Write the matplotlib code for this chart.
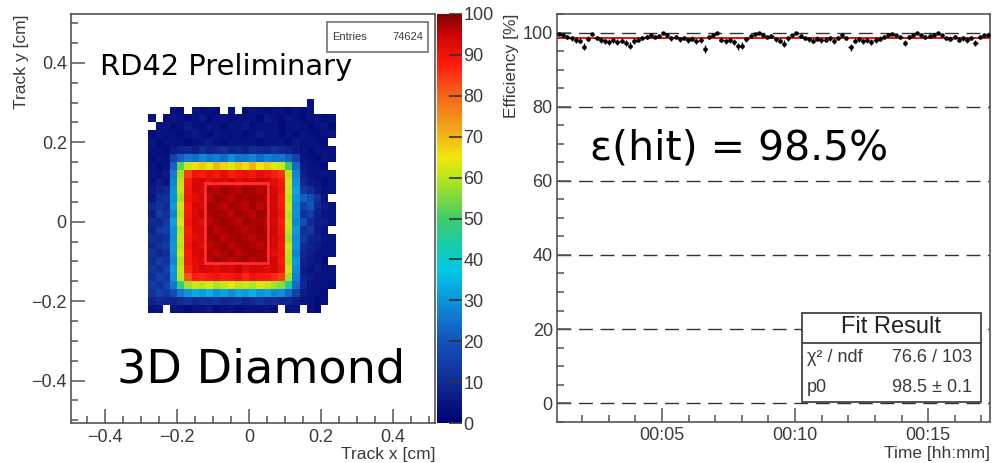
import numpy as np
import matplotlib
matplotlib.use("Agg")
import matplotlib.pyplot as plt
from matplotlib.colors import LinearSegmentedColormap
from matplotlib.patches import Rectangle
from matplotlib.transforms import Bbox
from matplotlib.ticker import MultipleLocator, FixedLocator, FuncFormatter

plt.rcParams['font.family'] = ['Liberation Sans', 'DejaVu Sans']

# ---------------- hit map: efficiency per 0.02 cm cell (0 = no tracks) ----------------
map_x_min = -0.28
map_y_max = 0.31
map_bin = 0.02
hit_rows = [
    [0, 0, 0, 0, 0, 0, 0, 0, 0, 0, 0, 0, 0, 0, 0, 0, 0, 0, 0, 0, 0, 0, 4, 0, 0, 0],
    [0, 0, 0, 4, 3, 0, 5, 3, 4, 3, 0, 4, 0, 3, 5, 4, 3, 4, 5, 3, 4, 3, 5, 0, 0, 0],
    [4, 0, 3, 5, 4, 3, 4, 6, 3, 4, 5, 3, 4, 4, 5, 3, 6, 4, 3, 5, 4, 3, 4, 5, 3, 4],
    [0, 4, 5, 3, 4, 6, 4, 3, 5, 4, 3, 5, 4, 6, 3, 4, 5, 4, 3, 4, 5, 4, 3, 4, 5, 3],
    [3, 5, 4, 4, 3, 5, 6, 4, 3, 5, 4, 4, 5, 3, 4, 6, 4, 5, 3, 4, 3, 5, 4, 3, 4, 5],
    [5, 3, 4, 5, 4, 3, 4, 5, 6, 4, 3, 5, 4, 4, 5, 3, 4, 4, 5, 3, 6, 4, 5, 4, 3, 0],
    [4, 4, 3, 6, 8, 9, 7, 10, 8, 9, 11, 8, 9, 7, 10, 9, 8, 11, 9, 8, 6, 4, 3, 5, 4, 4],
    [3, 5, 4, 15, 22, 26, 24, 28, 25, 27, 24, 29, 26, 25, 28, 24, 27, 25, 26, 22, 16, 5, 4, 3, 5, 4],
    [4, 3, 5, 22, 52, 62, 66, 68, 64, 70, 67, 63, 69, 66, 71, 65, 68, 64, 62, 50, 24, 6, 4, 4, 3, 0],
    [5, 4, 6, 26, 58, 84, 90, 88, 91, 89, 92, 88, 90, 91, 89, 92, 90, 88, 85, 60, 28, 7, 5, 4, 5, 4],
    [4, 6, 5, 28, 60, 88, 93, 94, 92, 94, 93, 95, 92, 94, 93, 95, 94, 92, 89, 62, 30, 9, 6, 5, 3, 5],
    [6, 8, 9, 30, 61, 89, 94, 93, 97, 96, 98, 97, 96, 98, 97, 96, 98, 93, 90, 61, 32, 14, 10, 6, 4, 4],
    [5, 10, 12, 29, 58, 90, 92, 94, 96, 98, 97, 96, 98, 97, 98, 97, 96, 94, 88, 60, 31, 22, 18, 12, 5, 0],
    [9, 12, 10, 31, 62, 88, 94, 93, 98, 97, 96, 98, 97, 96, 98, 96, 97, 93, 89, 62, 29, 16, 20, 9, 6, 4],
    [7, 14, 11, 28, 60, 89, 93, 95, 97, 98, 97, 96, 98, 97, 96, 98, 97, 94, 90, 59, 30, 12, 15, 8, 5, 5],
    [10, 9, 13, 32, 63, 90, 94, 92, 96, 97, 98, 97, 96, 98, 97, 97, 96, 93, 88, 61, 28, 18, 10, 7, 6, 4],
    [8, 13, 15, 30, 59, 88, 93, 94, 98, 96, 97, 98, 97, 96, 97, 98, 97, 94, 89, 60, 31, 11, 13, 6, 4, 0],
    [11, 10, 12, 29, 61, 89, 92, 93, 97, 98, 96, 97, 98, 97, 96, 97, 98, 93, 90, 58, 29, 14, 9, 8, 5, 4],
    [9, 12, 14, 31, 60, 90, 94, 92, 96, 97, 98, 96, 97, 98, 97, 96, 97, 94, 89, 61, 30, 10, 8, 6, 4, 5],
    [12, 9, 11, 30, 62, 88, 93, 94, 97, 96, 97, 98, 96, 97, 98, 97, 96, 92, 90, 60, 28, 9, 7, 5, 4, 4],
    [10, 14, 12, 28, 59, 89, 92, 93, 96, 98, 97, 96, 97, 98, 96, 97, 98, 94, 88, 59, 31, 8, 6, 5, 3, 0],
    [13, 11, 15, 31, 61, 87, 92, 94, 93, 92, 94, 93, 95, 92, 94, 93, 92, 94, 90, 62, 29, 7, 5, 6, 4, 5],
    [11, 15, 13, 30, 60, 82, 88, 87, 89, 90, 88, 89, 91, 87, 90, 89, 88, 86, 84, 58, 27, 8, 6, 4, 5, 4],
    [14, 12, 16, 26, 48, 58, 62, 60, 63, 59, 61, 64, 60, 62, 59, 63, 61, 58, 56, 45, 24, 9, 5, 5, 4, 3],
    [12, 16, 13, 18, 26, 30, 33, 31, 34, 30, 32, 29, 33, 31, 34, 30, 32, 28, 29, 24, 16, 7, 5, 4, 3, 0],
    [8, 10, 9, 8, 10, 12, 9, 11, 10, 12, 9, 10, 11, 8, 10, 12, 9, 10, 8, 9, 7, 5, 4, 3, 4, 0],
    [4, 5, 0, 5, 4, 3, 5, 4, 6, 3, 4, 5, 3, 4, 5, 4, 5, 3, 0, 4, 5, 0, 4, 3, 0, 0],
]
entries = 74624
fiducial_x = (-0.122, 0.053)
fiducial_y = (-0.104, 0.098)

# ---------------- efficiency vs time ----------------
t_start = 1.05      # minutes
t_bin = 0.1565      # minutes per bin
eff_values = [
    99.6, 99.2, 98.9, 98.4, 98.0, 97.8, 96.2, 98.3, 99.7, 98.6,
    98.0, 97.6, 97.4, 97.9, 97.5, 97.8, 97.3, 96.4, 97.7, 98.1,
    98.6, 98.9, 99.3, 98.7, 99.1, 99.8, 99.2, 98.4, 98.8, 98.2,
    98.5, 97.9, 98.3, 97.6, 98.0, 95.6, 98.7, 99.2, 99.8, 98.1,
    97.6, 97.9, 97.4, 96.3, 96.5, 98.2, 99.0, 99.5, 99.9, 99.4,
    98.8, 99.1, 98.2, 97.8, 97.0, 98.4, 99.3, 99.8, 99.1, 98.6,
    98.2, 97.8, 98.3, 97.9, 98.1, 98.4, 97.7, 98.5, 99.2, 98.6,
    96.0, 97.8, 98.2, 97.6, 97.9, 97.4, 98.0, 98.3, 98.8, 99.4,
    99.7, 99.2, 98.9, 97.2, 98.7, 99.3, 99.8, 99.4, 98.9, 99.1,
    99.3, 99.9, 99.2, 98.6, 98.3, 98.7, 98.1, 98.4, 98.0, 98.5,
    97.2, 98.8, 99.2, 99.4,
]
tracks_per_bin = 400
fit_chi2, fit_ndf = 76.6, 103
fit_p0, fit_p0_err = 98.5, 0.1

# ---------------- styling ----------------
spine_col = '#555555'
txt_col = '#3a3a3a'
rainbow = LinearSegmentedColormap.from_list('root_rainbow', [
    (0.00, (0.00, 0.00, 0.45)),
    (0.10, (0.07, 0.17, 0.58)),
    (0.20, (0.08, 0.32, 0.74)),
    (0.30, (0.05, 0.58, 0.86)),
    (0.37, (0.00, 0.78, 0.90)),
    (0.44, (0.10, 0.80, 0.65)),
    (0.50, (0.25, 0.80, 0.40)),
    (0.60, (0.72, 0.90, 0.10)),
    (0.65, (0.95, 0.90, 0.05)),
    (0.72, (0.95, 0.65, 0.10)),
    (0.80, (0.96, 0.40, 0.10)),
    (0.88, (1.00, 0.10, 0.05)),
    (0.95, (0.80, 0.02, 0.02)),
    (1.00, (0.50, 0.00, 0.00)),
])

W, H = 997, 463
fig = plt.figure(figsize=(W / 100, H / 100), dpi=100)


def fbox(x0, y0, x1, y1):
    """pixel box (top-left origin) -> figure fraction rect"""
    return [x0 / W, 1 - y1 / H, (x1 - x0) / W, (y1 - y0) / H]


def style_spines(ax):
    for s in ax.spines.values():
        s.set_color(spine_col)
        s.set_linewidth(1.2)


# ---------------- left: hit map ----------------
ax1 = fig.add_axes(fbox(71, 14, 435, 423))
vals = np.array(hit_rows, dtype=float)
vals = np.ma.masked_where(vals <= 0, vals)
nrow, ncol = vals.shape
x_edges = map_x_min + map_bin * np.arange(ncol + 1)
y_edges = map_y_max - map_bin * np.arange(nrow + 1)
mesh = ax1.pcolormesh(x_edges, y_edges, vals, cmap=rainbow, vmin=0, vmax=100,
                      shading='flat', edgecolors='none', antialiased=False)
ax1.add_patch(Rectangle((fiducial_x[0], fiducial_y[0]),
                        fiducial_x[1] - fiducial_x[0], fiducial_y[1] - fiducial_y[0],
                        fill=False, edgecolor='#ff3030', linewidth=2.0, zorder=3))
ax1.set_xlim(-0.495, 0.516)
ax1.set_ylim(-0.507, 0.523)
ax1.xaxis.set_major_locator(FixedLocator([-0.4, -0.2, 0, 0.2, 0.4]))
ax1.yaxis.set_major_locator(FixedLocator([-0.4, -0.2, 0, 0.2, 0.4]))
ax1.xaxis.set_minor_locator(MultipleLocator(0.05))
ax1.yaxis.set_minor_locator(MultipleLocator(0.05))
fmt = FuncFormatter(lambda v, p: '0' if abs(v) < 1e-9 else ('\u2212%.1f' % abs(v) if v < 0 else '%.1f' % v))
ax1.xaxis.set_major_formatter(fmt)
ax1.yaxis.set_major_formatter(fmt)
ax1.tick_params(which='both', direction='in', top=False, right=False, color=spine_col,
                labelcolor=txt_col, labelsize=13, width=1.1)
ax1.tick_params(which='major', length=10)
ax1.tick_params(which='minor', length=5)
ax1.tick_params(axis='y', pad=3)
ax1.tick_params(axis='x', pad=4)
style_spines(ax1)
ax1.text(1.0, -0.077, 'Track x [cm]', transform=ax1.transAxes, ha='right', va='center',
         fontsize=12.5, color=txt_col)
ax1.text(-0.135, 1.0, 'Track y [cm]', transform=ax1.transAxes, ha='center', va='top',
         rotation=90, fontsize=12.5, color=txt_col)

# statistics box
ax1.add_patch(Rectangle((0.703, 0.907), 0.278, 0.073, transform=ax1.transAxes,
                        facecolor='white', edgecolor='#666666', linewidth=1.1, zorder=4))
ax1.text(0.717, 0.944, 'Entries', transform=ax1.transAxes, ha='left', va='center',
         fontsize=8, color=txt_col, zorder=5)
ax1.text(0.968, 0.944, f'{entries}', transform=ax1.transAxes, ha='right', va='center',
         fontsize=8, color=txt_col, zorder=5)

ax1.text(0.0797, 0.851, 'RD42 Preliminary', transform=ax1.transAxes, ha='left',
         va='baseline', fontsize=20.8, family='DejaVu Sans', color='black')
ax1.text(0.126, 0.098, '3D Diamond', transform=ax1.transAxes, ha='left',
         va='baseline', fontsize=33.3, family='DejaVu Sans', color='black')

# colour scale
cax = fig.add_axes(fbox(437, 14, 462, 423))
cb = fig.colorbar(mesh, cax=cax)
cb.outline.set_visible(False)
cb.set_ticks(np.arange(0, 101, 10))
cax.tick_params(direction='in', length=9.5, width=1.2, color='#333333', labelsize=13,
                labelcolor=txt_col, pad=1)
clip = Bbox.from_extents(0, 0, 495, H)
for lab in cax.get_yticklabels():
    lab.set_clip_box(clip)
    lab.set_clip_on(True)

# ---------------- right: efficiency vs time ----------------
ax2 = fig.add_axes(fbox(557, 14, 990, 421.7))
eff = np.array(eff_values)
t_centers = t_start + t_bin * (np.arange(len(eff)) + 0.5)
p = eff / 100.0
err = 100.0 * np.sqrt(p * (1 - p) / tracks_per_bin)
err_hi = np.minimum(err, 100.0 - eff)
ax2.set_xlim(t_start, t_start + t_bin * len(eff))
ax2.set_ylim(-5, 105)
for g in range(0, 101, 20):
    ax2.axhline(g, color='#333333', linewidth=1.0, dashes=(10, 5.5), zorder=1)
ax2.axhline(fit_p0, color='#ee1111', linewidth=1.4, zorder=2)
ax2.errorbar(t_centers, eff, yerr=[err, err_hi], xerr=t_bin / 2, fmt='o', color='black',
             markersize=2.2, elinewidth=0.9, capsize=0, zorder=3)
ax2.xaxis.set_major_locator(FixedLocator([5, 10, 15]))
ax2.xaxis.set_minor_locator(MultipleLocator(1))
ax2.xaxis.set_major_formatter(FuncFormatter(lambda v, pos: '%02d:%02d' % divmod(int(round(v)), 60)))
ax2.yaxis.set_major_locator(FixedLocator([0, 20, 40, 60, 80, 100]))
ax2.yaxis.set_minor_locator(MultipleLocator(5))
ax2.tick_params(which='both', direction='in', top=False, right=False, color=spine_col,
                labelcolor=txt_col, labelsize=13, width=1.1)
ax2.tick_params(which='major', length=10)
ax2.tick_params(which='minor', length=5)
ax2.tick_params(axis='y', pad=3)
ax2.tick_params(axis='x', pad=4)
style_spines(ax2)
ax2.text(1.0, -0.079, 'Time [hh:mm]', transform=ax2.transAxes, ha='right', va='center',
         fontsize=12.5, color=txt_col)
ax2.text(-0.106, 1.0, 'Efficiency [%]', transform=ax2.transAxes, ha='center', va='top',
         rotation=90, fontsize=12.5, color=txt_col)

ax2.text(0.076, 0.642, '\u03b5(hit) = %.1f%%' % fit_p0, transform=ax2.transAxes, ha='left',
         va='baseline', fontsize=29.5, family='DejaVu Sans', color='black')

# fit result box
bx0, by0, bx1, by1, bdiv = 0.565, 0.0476, 0.979, 0.2666, 0.193
ax2.add_patch(Rectangle((bx0, by0), bx1 - bx0, by1 - by0, transform=ax2.transAxes,
                        facecolor='white', edgecolor='#444444', linewidth=1.3, zorder=4))
ax2.plot([bx0, bx1], [bdiv, bdiv], transform=ax2.transAxes, color='#444444',
         linewidth=1.3, zorder=5)
ax2.text((bx0 + bx1) / 2, 0.232, 'Fit Result', transform=ax2.transAxes, ha='center',
         va='center', fontsize=17, color='#222222', zorder=6)
ax2.text(0.577, 0.157, '\u03c7\u00b2 / ndf', transform=ax2.transAxes, ha='left',
         va='center', fontsize=13, color=txt_col, zorder=6)
ax2.text(0.958, 0.157, f'{fit_chi2:.1f} / {fit_ndf}', transform=ax2.transAxes, ha='right',
         va='center', fontsize=13, color=txt_col, zorder=6)
ax2.text(0.577, 0.083, 'p0', transform=ax2.transAxes, ha='left',
         va='center', fontsize=13, color=txt_col, zorder=6)
ax2.text(0.958, 0.083, f'{fit_p0:.1f} \u00b1 {fit_p0_err:.1f}', transform=ax2.transAxes,
         ha='right', va='center', fontsize=13, color=txt_col, zorder=6)

fig.savefig('out.png', dpi=100)
